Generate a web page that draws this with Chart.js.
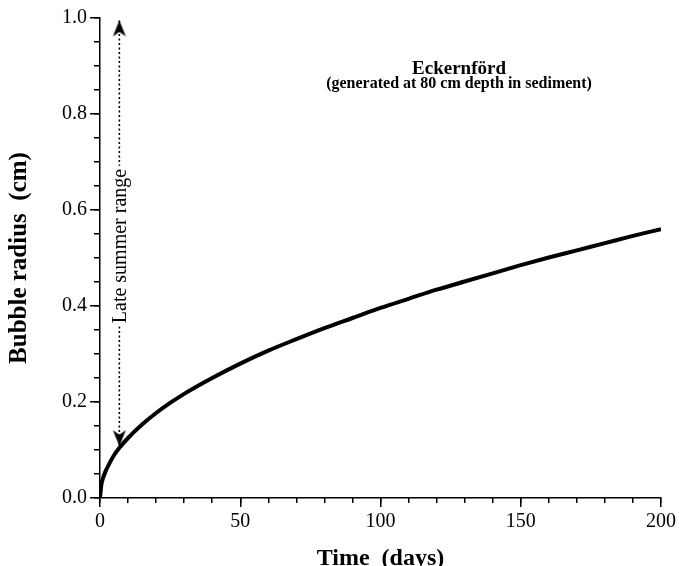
<!DOCTYPE html>
<html><head><meta charset="utf-8">
<script src="https://cdn.jsdelivr.net/npm/chart.js@4.4.1/dist/chart.umd.min.js"></script>
<style>html,body{margin:0;padding:0;background:#fff;} #wrap{width:679px;height:566px;}</style>
</head><body><div id="wrap"><canvas id="c" width="679" height="566"></canvas></div>
<script>
// ---- data ----
const days = [0,0.5,1,2,3,5,7,10,15,20,25,30,40,50,60,70,80,90,100,110,120,130,140,150,160,170,180,190,200];
const radius = [0,0.028,0.04,0.056,0.068,0.089,0.105,0.125,0.153,0.177,0.198,0.217,0.25,0.28,0.307,0.331,0.354,0.375,0.396,0.415,0.434,0.451,0.468,0.485,0.501,0.516,0.531,0.546,0.56];
const xTicksMajor = [0,50,100,150,200];
const yTicksMajor = [0,0.2,0.4,0.6,0.8,1.0];
const arrowDay = [6.9, 6.9];
const arrowRadius = [0.995, 0.108];
const arrowLabelAt = 0.525;
const titleText = 'Eckernförd';
const subtitleText = '(generated at 80 cm depth in sediment)';
const arrowLabel = 'Late summer range';
const xTitle = 'Time  (days)';
const yTitle = 'Bubble radius  (cm)';
const titleAt = {day: 128, r: 0.894};
const subtitleAt = {day: 128, r: 0.862};

const SERIF = '"Liberation Serif", "Times New Roman", serif';
Chart.defaults.color = '#000';
Chart.defaults.font.family = SERIF;

function makeArrow(up) {
  const c = document.createElement('canvas');
  c.width = 16; c.height = 34;
  const g = c.getContext('2d');
  g.fillStyle = '#000';
  g.beginPath();
  if (up) {
    g.moveTo(8, 17); g.lineTo(14.5, 33); g.lineTo(8, 28.5); g.lineTo(1.5, 33);
  } else {
    g.moveTo(8, 17); g.lineTo(14.5, 1); g.lineTo(8, 5.5); g.lineTo(1.5, 1);
  }
  g.closePath(); g.fill();
  return c;
}

const textPlugin = {
  id: 'texts',
  afterDatasetsDraw(chart) {
    const {ctx, scales: {x, y}} = chart;
    ctx.save();
    const ax = x.getPixelForValue(arrowDay[0]);
    const ay = y.getPixelForValue(arrowLabelAt);
    ctx.translate(ax, ay);
    ctx.rotate(-Math.PI / 2);
    ctx.font = '20px ' + SERIF;
    const w = ctx.measureText(arrowLabel).width;
    ctx.fillStyle = '#fff';
    ctx.fillRect(-w / 2 - 3, -8, w + 6, 16);
    ctx.fillStyle = '#000';
    ctx.textAlign = 'center';
    ctx.textBaseline = 'middle';
    ctx.fillText(arrowLabel, 0, 1);
    ctx.restore();

    ctx.save();
    ctx.fillStyle = '#000';
    ctx.textAlign = 'center';
    ctx.textBaseline = 'middle';
    ctx.font = 'bold 19px ' + SERIF;
    ctx.fillText(titleText, x.getPixelForValue(titleAt.day), y.getPixelForValue(titleAt.r));
    ctx.font = 'bold 16px ' + SERIF;
    ctx.fillText(subtitleText, x.getPixelForValue(subtitleAt.day), y.getPixelForValue(subtitleAt.r));
    ctx.restore();
  }
};

new Chart(document.getElementById('c'), {
  type: 'line',
  data: {
    datasets: [
      {
        data: days.map((d, i) => ({x: d, y: radius[i]})),
        borderColor: '#000',
        borderWidth: 4,
        pointRadius: 0,
        cubicInterpolationMode: 'monotone',
        fill: false
      },
      {
        data: arrowDay.map((d, i) => ({x: d, y: arrowRadius[i]})),
        borderColor: '#000',
        borderWidth: 1.6,
        borderDash: [2, 2.5],
        pointRadius: 6,
        pointStyle: [makeArrow(true), makeArrow(false)],
        fill: false
      }
    ]
  },
  plugins: [textPlugin],
  options: {
    responsive: false,
    devicePixelRatio: 1,
    animation: false,
    events: [],
    layout: {padding: {left: 0, top: 18, right: 17, bottom: 0}},
    plugins: {legend: {display: false}, tooltip: {enabled: false}},
    scales: {
      x: {
        type: 'linear', position: 'bottom', min: 0, max: 200, weight: 10,
        afterBuildTicks: s => { s.ticks = xTicksMajor.map(v => ({value: v})); },
        ticks: {font: {size: 20, family: SERIF}, color: '#000', padding: 3, maxRotation: 0},
        grid: {drawOnChartArea: false, tickLength: 9, color: '#000', lineWidth: 1.5},
        border: {display: true, color: '#000', width: 1.5},
        title: {display: true, text: xTitle, color: '#000', font: {size: 24, weight: 'bold', family: SERIF, lineHeight: 1}, padding: {top: 0, bottom: -5}},
        afterFit: s => { s.height = 68; }
      },
      xMinor: {
        type: 'linear', axis: 'x', position: 'bottom', min: 0, max: 200, weight: 0,
        ticks: {stepSize: 10, display: false},
        grid: {drawOnChartArea: false, tickLength: 5, color: '#000', lineWidth: 1.5},
        border: {display: false},
        afterFit: s => { s.height = 0; }
      },
      y: {
        type: 'linear', position: 'left', min: 0, max: 1, weight: 10,
        afterBuildTicks: s => { s.ticks = yTicksMajor.map(v => ({value: v})); },
        ticks: {font: {size: 20, family: SERIF}, color: '#000', padding: 3, callback: v => Number(v).toFixed(1)},
        grid: {drawOnChartArea: false, tickLength: 10, color: '#000', lineWidth: 1.5},
        border: {display: true, color: '#000', width: 1.5},
        title: {display: true, text: yTitle, color: '#000', font: {size: 25, weight: 'bold', family: SERIF, lineHeight: 1}, padding: {top: 7, bottom: 0}},
        afterFit: s => { s.width = 100; }
      },
      yMinor: {
        type: 'linear', axis: 'y', position: 'left', min: 0, max: 1, weight: 0,
        ticks: {stepSize: 0.05, display: false},
        grid: {drawOnChartArea: false, tickLength: 6, color: '#000', lineWidth: 1.5},
        border: {display: false},
        afterFit: s => { s.width = 0; }
      }
    }
  }
});
</script>
</body></html>
